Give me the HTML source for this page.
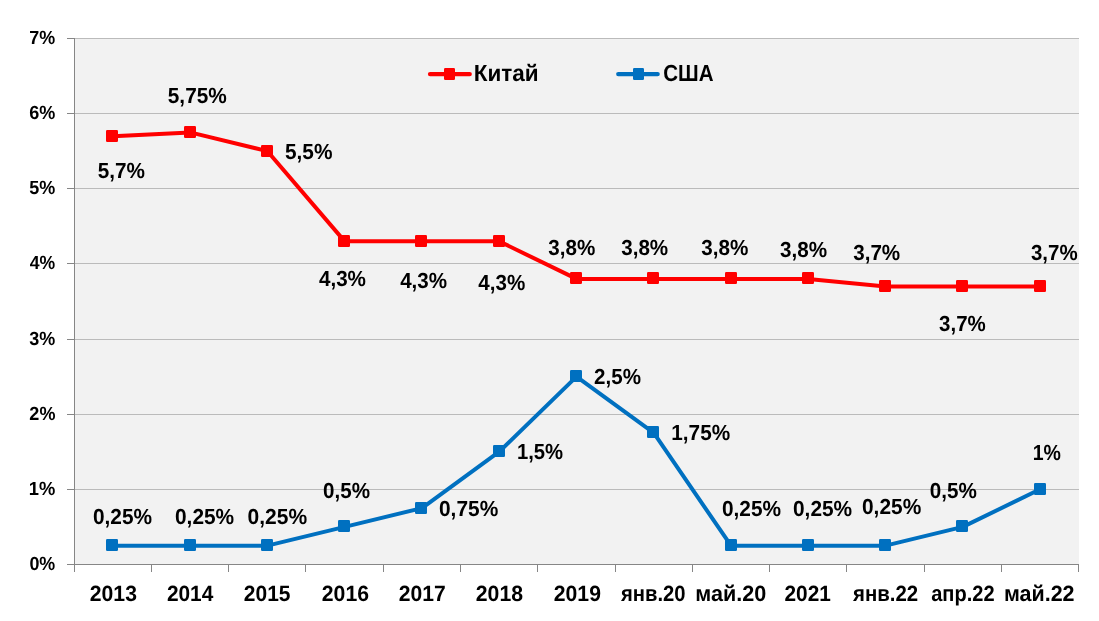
<!DOCTYPE html>
<html lang="ru">
<head>
<meta charset="utf-8">
<title>Китай и США</title>
<style>
html,body{margin:0;padding:0;background:#ffffff;}
body{width:1099px;height:621px;overflow:hidden;}
svg text{white-space:pre;}
</style>
</head>
<body>
<svg width="1099" height="621" viewBox="0 0 1099 621" style="display:block">
<rect x="0" y="0" width="1099" height="621" fill="#ffffff"/>
<rect x="75" y="39" width="1004" height="525" fill="#f2f2f2"/>
<rect x="75" y="489" width="1004" height="1" fill="#bbbbbb"/>
<rect x="67" y="489" width="8" height="1" fill="#868686"/>
<rect x="75" y="414" width="1004" height="1" fill="#bbbbbb"/>
<rect x="67" y="414" width="8" height="1" fill="#868686"/>
<rect x="75" y="339" width="1004" height="1" fill="#bbbbbb"/>
<rect x="67" y="339" width="8" height="1" fill="#868686"/>
<rect x="75" y="263" width="1004" height="1" fill="#bbbbbb"/>
<rect x="67" y="263" width="8" height="1" fill="#868686"/>
<rect x="75" y="188" width="1004" height="1" fill="#bbbbbb"/>
<rect x="67" y="188" width="8" height="1" fill="#868686"/>
<rect x="75" y="113" width="1004" height="1" fill="#bbbbbb"/>
<rect x="67" y="113" width="8" height="1" fill="#868686"/>
<rect x="75" y="38" width="1004" height="1" fill="#bbbbbb"/>
<rect x="67" y="38" width="8" height="1" fill="#868686"/>
<rect x="74" y="38" width="1" height="527" fill="#868686"/>
<rect x="67" y="564" width="1012" height="1" fill="#868686"/>
<rect x="74" y="564" width="1" height="8" fill="#868686"/>
<rect x="151" y="564" width="1" height="8" fill="#868686"/>
<rect x="228" y="564" width="1" height="8" fill="#868686"/>
<rect x="305" y="564" width="1" height="8" fill="#868686"/>
<rect x="383" y="564" width="1" height="8" fill="#868686"/>
<rect x="460" y="564" width="1" height="8" fill="#868686"/>
<rect x="537" y="564" width="1" height="8" fill="#868686"/>
<rect x="615" y="564" width="1" height="8" fill="#868686"/>
<rect x="692" y="564" width="1" height="8" fill="#868686"/>
<rect x="769" y="564" width="1" height="8" fill="#868686"/>
<rect x="846" y="564" width="1" height="8" fill="#868686"/>
<rect x="924" y="564" width="1" height="8" fill="#868686"/>
<rect x="1001" y="564" width="1" height="8" fill="#868686"/>
<rect x="1078" y="564" width="1" height="8" fill="#868686"/>
<polyline points="112.93,136.15 190.19,132.40 267.45,151.18 344.71,241.35 421.97,241.35 499.23,241.35 576.49,278.92 653.75,278.92 731.01,278.92 808.27,278.92 885.53,286.43 962.79,286.43 1040.05,286.43" fill="none" stroke="#ff0000" stroke-width="4" stroke-linejoin="round" stroke-linecap="round"/>
<rect x="106" y="130" width="12" height="12" rx="1.2" fill="#ff0000"/>
<rect x="184" y="126" width="12" height="12" rx="1.2" fill="#ff0000"/>
<rect x="261" y="145" width="12" height="12" rx="1.2" fill="#ff0000"/>
<rect x="338" y="235" width="12" height="12" rx="1.2" fill="#ff0000"/>
<rect x="415" y="235" width="12" height="12" rx="1.2" fill="#ff0000"/>
<rect x="493" y="235" width="12" height="12" rx="1.2" fill="#ff0000"/>
<rect x="570" y="272" width="12" height="12" rx="1.2" fill="#ff0000"/>
<rect x="647" y="272" width="12" height="12" rx="1.2" fill="#ff0000"/>
<rect x="725" y="272" width="12" height="12" rx="1.2" fill="#ff0000"/>
<rect x="802" y="272" width="12" height="12" rx="1.2" fill="#ff0000"/>
<rect x="879" y="280" width="12" height="12" rx="1.2" fill="#ff0000"/>
<rect x="956" y="280" width="12" height="12" rx="1.2" fill="#ff0000"/>
<rect x="1034" y="280" width="12" height="12" rx="1.2" fill="#ff0000"/>
<polyline points="112.93,545.67 190.19,545.67 267.45,545.67 344.71,526.88 421.97,508.10 499.23,451.74 576.49,376.60 653.75,432.96 731.01,545.67 808.27,545.67 885.53,545.67 962.79,526.88 1040.05,489.31" fill="none" stroke="#0070c0" stroke-width="4" stroke-linejoin="round" stroke-linecap="round"/>
<rect x="106" y="539" width="12" height="12" rx="1.2" fill="#0070c0"/>
<rect x="184" y="539" width="12" height="12" rx="1.2" fill="#0070c0"/>
<rect x="261" y="539" width="12" height="12" rx="1.2" fill="#0070c0"/>
<rect x="338" y="520" width="12" height="12" rx="1.2" fill="#0070c0"/>
<rect x="415" y="502" width="12" height="12" rx="1.2" fill="#0070c0"/>
<rect x="493" y="445" width="12" height="12" rx="1.2" fill="#0070c0"/>
<rect x="570" y="370" width="12" height="12" rx="1.2" fill="#0070c0"/>
<rect x="647" y="426" width="12" height="12" rx="1.2" fill="#0070c0"/>
<rect x="725" y="539" width="12" height="12" rx="1.2" fill="#0070c0"/>
<rect x="802" y="539" width="12" height="12" rx="1.2" fill="#0070c0"/>
<rect x="879" y="539" width="12" height="12" rx="1.2" fill="#0070c0"/>
<rect x="956" y="520" width="12" height="12" rx="1.2" fill="#0070c0"/>
<rect x="1034" y="483" width="12" height="12" rx="1.2" fill="#0070c0"/>
<line x1="430.1" y1="74.1" x2="469.7" y2="74.1" stroke="#ff0000" stroke-width="4.4" stroke-linecap="round"/>
<rect x="444" y="68" width="11" height="12" rx="1.2" fill="#ff0000"/>
<line x1="618.3000000000001" y1="74.1" x2="657.6" y2="74.1" stroke="#0070c0" stroke-width="4.4" stroke-linecap="round"/>
<rect x="633" y="68" width="11" height="12" rx="1.2" fill="#0070c0"/>
<g font-family="'Liberation Sans', Arial, sans-serif" font-weight="700" fill="#000000" style="text-rendering:geometricPrecision">
<text x="473.70" y="81.00" font-size="23.26" textLength="64.85" lengthAdjust="spacingAndGlyphs">Китай</text>
<text x="663.19" y="81.00" font-size="23.26" textLength="50.29" lengthAdjust="spacingAndGlyphs">США</text>
<text x="29.42" y="570.00" font-size="19.0" textLength="25.85" lengthAdjust="spacingAndGlyphs">0%</text>
<text x="28.80" y="495.00" font-size="19.0" textLength="26.53" lengthAdjust="spacingAndGlyphs">1%</text>
<text x="29.36" y="420.00" font-size="19.0" textLength="26.04" lengthAdjust="spacingAndGlyphs">2%</text>
<text x="29.36" y="345.00" font-size="19.0" textLength="25.98" lengthAdjust="spacingAndGlyphs">3%</text>
<text x="29.80" y="269.00" font-size="19.0" textLength="25.47" lengthAdjust="spacingAndGlyphs">4%</text>
<text x="29.22" y="194.00" font-size="19.0" textLength="26.01" lengthAdjust="spacingAndGlyphs">5%</text>
<text x="29.29" y="119.00" font-size="19.0" textLength="26.09" lengthAdjust="spacingAndGlyphs">6%</text>
<text x="29.26" y="44.00" font-size="19.0" textLength="25.90" lengthAdjust="spacingAndGlyphs">7%</text>
<text x="89.81" y="601.00" font-size="22.1" textLength="47.15" lengthAdjust="spacingAndGlyphs">2013</text>
<text x="166.89" y="601.00" font-size="22.1" textLength="46.40" lengthAdjust="spacingAndGlyphs">2014</text>
<text x="243.82" y="601.00" font-size="22.1" textLength="46.68" lengthAdjust="spacingAndGlyphs">2015</text>
<text x="321.81" y="601.00" font-size="22.1" textLength="47.17" lengthAdjust="spacingAndGlyphs">2016</text>
<text x="398.82" y="601.00" font-size="22.1" textLength="46.96" lengthAdjust="spacingAndGlyphs">2017</text>
<text x="475.82" y="601.00" font-size="22.1" textLength="47.17" lengthAdjust="spacingAndGlyphs">2018</text>
<text x="553.81" y="601.00" font-size="22.1" textLength="47.14" lengthAdjust="spacingAndGlyphs">2019</text>
<text x="621.02" y="601.00" font-size="22.1" textLength="64.60" lengthAdjust="spacingAndGlyphs">янв.20</text>
<text x="695.25" y="601.00" font-size="22.1" textLength="71.02" lengthAdjust="spacingAndGlyphs">май.20</text>
<text x="784.49" y="601.00" font-size="22.1" textLength="46.33" lengthAdjust="spacingAndGlyphs">2021</text>
<text x="853.02" y="601.00" font-size="22.1" textLength="65.18" lengthAdjust="spacingAndGlyphs">янв.22</text>
<text x="931.23" y="601.00" font-size="22.1" textLength="63.33" lengthAdjust="spacingAndGlyphs">апр.22</text>
<text x="1003.92" y="601.00" font-size="22.1" textLength="70.66" lengthAdjust="spacingAndGlyphs">май.22</text>
<text x="97.73" y="178.00" font-size="21.8" textLength="47.19" lengthAdjust="spacingAndGlyphs">5,7%</text>
<text x="167.81" y="103.00" font-size="21.8" textLength="58.97" lengthAdjust="spacingAndGlyphs">5,75%</text>
<text x="284.96" y="159.00" font-size="21.8" textLength="47.46" lengthAdjust="spacingAndGlyphs">5,5%</text>
<text x="318.92" y="286.00" font-size="21.8" textLength="47.08" lengthAdjust="spacingAndGlyphs">4,3%</text>
<text x="400.13" y="288.00" font-size="21.8" textLength="46.92" lengthAdjust="spacingAndGlyphs">4,3%</text>
<text x="478.27" y="290.00" font-size="21.8" textLength="46.92" lengthAdjust="spacingAndGlyphs">4,3%</text>
<text x="548.24" y="255.00" font-size="21.8" textLength="46.97" lengthAdjust="spacingAndGlyphs">3,8%</text>
<text x="621.20" y="255.00" font-size="21.8" textLength="46.98" lengthAdjust="spacingAndGlyphs">3,8%</text>
<text x="701.24" y="255.00" font-size="21.8" textLength="47.05" lengthAdjust="spacingAndGlyphs">3,8%</text>
<text x="779.97" y="257.00" font-size="21.8" textLength="47.07" lengthAdjust="spacingAndGlyphs">3,8%</text>
<text x="853.20" y="260.00" font-size="21.8" textLength="46.98" lengthAdjust="spacingAndGlyphs">3,7%</text>
<text x="939.12" y="331.00" font-size="21.8" textLength="46.68" lengthAdjust="spacingAndGlyphs">3,7%</text>
<text x="1030.94" y="260.00" font-size="21.8" textLength="46.69" lengthAdjust="spacingAndGlyphs">3,7%</text>
<text x="92.96" y="524.00" font-size="21.8" textLength="59.11" lengthAdjust="spacingAndGlyphs">0,25%</text>
<text x="175.01" y="524.00" font-size="21.8" textLength="59.15" lengthAdjust="spacingAndGlyphs">0,25%</text>
<text x="247.61" y="524.00" font-size="21.8" textLength="59.55" lengthAdjust="spacingAndGlyphs">0,25%</text>
<text x="323.12" y="498.00" font-size="21.8" textLength="46.93" lengthAdjust="spacingAndGlyphs">0,5%</text>
<text x="439.00" y="516.00" font-size="21.8" textLength="59.22" lengthAdjust="spacingAndGlyphs">0,75%</text>
<text x="516.92" y="459.00" font-size="21.8" textLength="46.19" lengthAdjust="spacingAndGlyphs">1,5%</text>
<text x="594.08" y="384.00" font-size="21.8" textLength="46.87" lengthAdjust="spacingAndGlyphs">2,5%</text>
<text x="671.33" y="440.00" font-size="21.8" textLength="58.80" lengthAdjust="spacingAndGlyphs">1,75%</text>
<text x="721.96" y="516.00" font-size="21.8" textLength="59.11" lengthAdjust="spacingAndGlyphs">0,25%</text>
<text x="793.01" y="516.00" font-size="21.8" textLength="59.15" lengthAdjust="spacingAndGlyphs">0,25%</text>
<text x="862.00" y="514.00" font-size="21.8" textLength="59.22" lengthAdjust="spacingAndGlyphs">0,25%</text>
<text x="929.84" y="498.00" font-size="21.8" textLength="47.06" lengthAdjust="spacingAndGlyphs">0,5%</text>
<text x="1032.74" y="460.00" font-size="21.8" textLength="28.23" lengthAdjust="spacingAndGlyphs">1%</text>
</g>
</svg>
</body>
</html>
